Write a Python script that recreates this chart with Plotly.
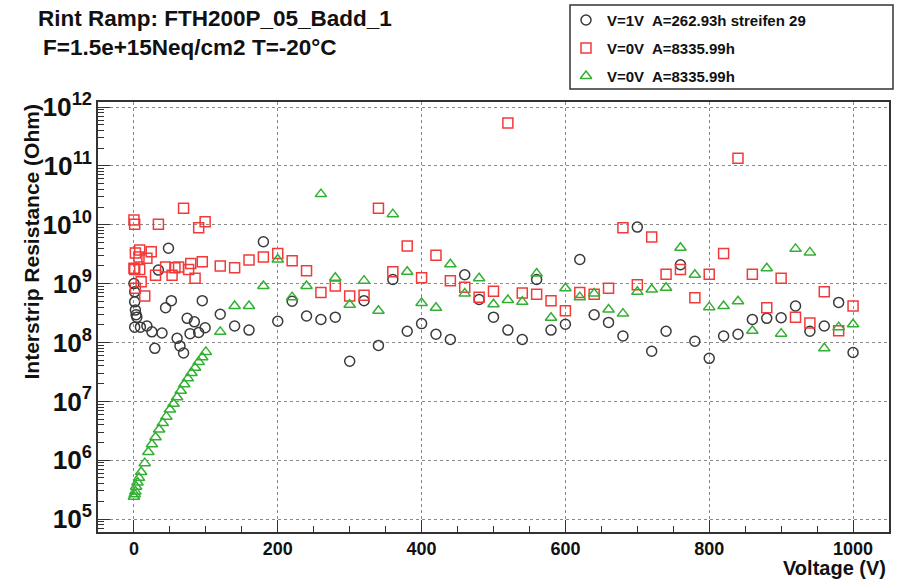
import plotly.graph_objects as go

# ---------------- data ----------------
title_line1 = "Rint Ramp: FTH200P_05_Badd_1"
title_line2 = "F=1.5e+15Neq/cm2 T=-20°C"
x_title = "Voltage (V)"
y_title = "Interstrip Resistance (Ohm)"

name_black = "V=1V\u00a0 A=262.93h streifen 29"
name_red = "V=0V\u00a0 A=8335.99h"
name_green = "V=0V\u00a0 A=8335.99h"

ramp_v = list(range(120, 1001, 20))

# black circles (log10 of resistance in Ohm)
black_v_low = [0, 1, 1, 2, 3, 4, 1, 9, 18, 25, 29, 34, 39, 44, 48, 52, 60, 64, 69, 74, 78, 84, 90, 95, 99]
black_log_low = [9.00, 8.86, 8.69, 8.55, 8.47, 8.43, 8.26, 8.26, 8.28, 8.18, 7.90, 9.23, 8.16, 8.59, 9.60,
                 8.71, 8.07, 7.94, 7.82, 8.41, 8.15, 8.35, 8.17, 8.71, 8.25]
black_log_ramp = [8.48, 8.28, 8.21, 9.71, 8.36, 8.70, 8.45, 8.39, 8.43, 7.68, 8.71, 7.95, 9.07, 8.19, 8.32,
                  8.14, 8.05, 9.15, 8.73, 8.43, 8.21, 8.05, 9.07, 8.21, 8.31,
                  9.41, 8.47, 8.34, 8.11, 9.96, 7.85, 8.19, 9.32, 8.02, 7.73, 8.11, 8.14, 8.39, 8.41, 8.42,
                  8.62, 8.19, 8.28, 8.68, 7.83]

# red squares
red_v_low = [0, 1, 34, 69, 90, 99, 2, 8, 7, 24, 18, 0, 1, 8, 10, 2, 15, 30, 44, 53, 57, 62, 76, 79, 85, 95]
red_log_low = [10.08, 10.01, 10.01, 10.28, 9.95, 10.05, 9.52, 9.57, 9.45, 9.54, 9.43, 9.26, 9.24, 9.24,
               9.03, 8.92, 8.79, 9.14, 9.28, 9.14, 9.27, 9.28, 9.24, 9.34, 9.09, 9.37]
red_log_ramp = [9.30, 9.27, 9.40, 9.45, 9.51, 9.39, 9.22, 8.85, 8.96, 8.79, 8.80, 10.28, 9.20, 9.64, 9.10,
                9.48, 9.05, 8.94, 8.77, 8.87, 11.73, 8.84, 8.82, 8.71, 8.54,
                8.85, 8.82, 8.92, 9.95, 8.98, 9.79, 9.16, 9.24, 8.76, 9.16, 9.51, 11.13, 9.16, 8.59, 9.09,
                8.43, 8.33, 8.86, 8.20, 8.62]

# green triangles
green_v_low = [0, 1, 2, 3, 5, 7, 10, 15, 20, 25, 30, 35, 40, 45, 50, 55, 60, 65, 70, 75, 80, 85, 90, 95, 100]
green_log_low = [5.38, 5.42, 5.47, 5.55, 5.62, 5.70, 5.80, 5.95, 6.14, 6.27, 6.39, 6.52, 6.63, 6.74, 6.86,
                 6.96, 7.07, 7.18, 7.29, 7.39, 7.48, 7.57, 7.67, 7.75, 7.84]
green_log_ramp = [8.18, 8.62, 8.62, 8.96, 9.41, 8.77, 8.96, 10.52, 9.10, 8.64, 9.05, 8.54, 10.18, 9.20, 8.67,
                  8.59, 9.33, 8.83, 9.09, 8.65, 8.72, 8.69, 9.17, 8.42, 8.92,
                  8.77, 8.83, 8.56, 8.49, 8.86, 8.90, 8.93, 9.61, 9.15, 8.60, 8.62, 8.70, 8.20, 9.26, 8.15,
                  9.59, 9.53, 7.90, 8.26, 8.31]

x_ticks = [0, 200, 400, 600, 800, 1000]

# ---------------- layout geometry (pixels) ----------------
W, H = 901, 580
L, R, T, B = 98, 12, 0, 48
PW, PH = W - L - R, H - T - B
PLOT_TOP = 102                      # top of the frame
LEG_BOX = (570, 893, 5, 89)         # legend frame left, right, top, bottom
LEG_ROWS = [20, 48, 76]             # legend row centres
LEG_KEY_X, LEG_TEXT_X = 586, 605


def px(x):
    return (x - L) / PW


def py(y):
    return (H - B - y) / PH


FONT = "Liberation Sans, Arial, Helvetica, sans-serif"


def ohm(logs):
    return [10 ** v for v in logs]


fig = go.Figure()

series = [
    (name_black, black_v_low + ramp_v, black_log_low + black_log_ramp, "circle-open", "#3a3a3a"),
    (name_red, red_v_low + ramp_v, red_log_low + red_log_ramp, "square-open", "#f23a3a"),
    (name_green, green_v_low + ramp_v, green_log_low + green_log_ramp, "triangle-up-open", "#33b033"),
]
for name, xs, logs, sym, col in series:
    fig.add_trace(go.Scatter(
        x=xs, y=ohm(logs), mode="markers", name=name, showlegend=False,
        marker=dict(symbol=sym, size=10, color=col, line=dict(color=col, width=1.5)),
    ))

# hand-built legend (keys on an overlay axis covering the legend box)
for (name, _, _, sym, col), row in zip(series, LEG_ROWS):
    fig.add_trace(go.Scatter(
        x=[LEG_KEY_X], y=[row], xaxis="x2", yaxis="y2", mode="markers", showlegend=False,
        hoverinfo="skip",
        marker=dict(symbol=sym, size=10, color=col, line=dict(color=col, width=1.5)),
    ))
    fig.add_annotation(text=name, x=LEG_TEXT_X, y=row, xref="x2", yref="y2",
                       xanchor="left", yanchor="middle", showarrow=False,
                       font=dict(family=FONT, size=15, weight="bold", color="#111"))

lx0, lx1, ly0, ly1 = LEG_BOX

fig.update_layout(
    width=W, height=H,
    margin=dict(l=L, r=R, t=T, b=B, autoexpand=False),
    paper_bgcolor="white", plot_bgcolor="white",
    font=dict(family=FONT, color="black"),
    showlegend=False,
    xaxis=dict(
        domain=[0, 1],
        range=[-50, 1050], tickvals=x_ticks, ticks="inside", ticklen=12, tickwidth=1,
        tickcolor="#333", showline=True, linecolor="#333", linewidth=1.5, mirror=True,
        showgrid=True, gridcolor="#8a8a8a", griddash="dot", gridwidth=1, zeroline=False,
        minor=dict(dtick=50, tick0=0, ticks="inside", ticklen=6, tickcolor="#333", showgrid=False),
        tickfont=dict(family=FONT, size=18, weight="bold", color="#111"),
    ),
    yaxis=dict(
        domain=[0, py(PLOT_TOP)],
        type="log", range=[4.78, 12.085], dtick=1, exponentformat="power", showexponent="all",
        ticks="inside", ticklen=12, tickwidth=1, tickcolor="#333",
        showline=True, linecolor="#333", linewidth=1.5, mirror=True,
        showgrid=True, gridcolor="#8a8a8a", griddash="dot", gridwidth=1, zeroline=False,
        minor=dict(dtick="D1", ticks="inside", ticklen=6, tickcolor="#333", showgrid=False),
        tickfont=dict(family=FONT, size=21, weight="bold", color="#111"),
    ),
    xaxis2=dict(domain=[px(lx0), min(1.0, px(lx1))], range=[lx0, min(lx1, W - R)],
                visible=False, fixedrange=True, anchor="y2"),
    yaxis2=dict(domain=[py(ly1), py(ly0)], range=[ly1, ly0],
                visible=False, fixedrange=True, anchor="x2"),
)

# legend frame
fig.add_shape(type="rect", xref="paper", yref="paper",
              x0=px(lx0), x1=px(lx1), y0=py(ly1), y1=py(ly0),
              line=dict(color="#333", width=1.5), fillcolor="rgba(0,0,0,0)")

ann = [
    dict(text=title_line1, x=px(36), y=py(19), xanchor="left", yanchor="middle", size=22.5),
    dict(text=title_line2, x=px(41), y=py(47), xanchor="left", yanchor="middle", size=22.5),
    dict(text=x_title, x=px(888), y=py(568), xanchor="right", yanchor="middle", size=20),
]
for a in ann:
    fig.add_annotation(text=a["text"], x=a["x"], y=a["y"], xref="paper", yref="paper",
                       xanchor=a["xanchor"], yanchor=a["yanchor"], showarrow=False,
                       font=dict(family=FONT, size=a["size"], weight="bold", color="#111"))

fig.add_annotation(text=y_title, x=px(31), y=py(103), xref="paper", yref="paper",
                   xanchor="center", yanchor="top", textangle=-90, showarrow=False,
                   font=dict(family=FONT, size=21, weight="bold", color="#111"))

fig.write_html("out.html")
